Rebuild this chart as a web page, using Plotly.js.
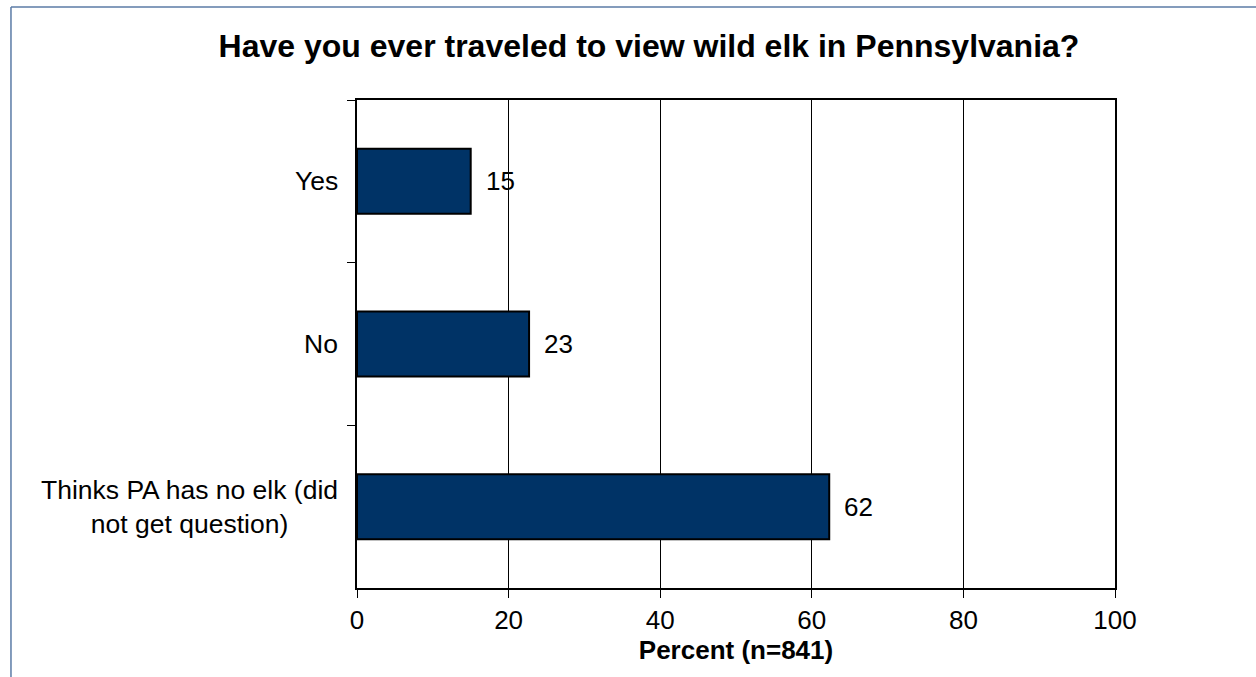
<!DOCTYPE html>
<html>
<head>
<meta charset="utf-8">
<script src="https://cdn.plot.ly/plotly-3.0.1.min.js"></script>
<style>
html,body{margin:0;padding:0;background:#fff;}
#chart{width:1256px;height:677px;}
</style>
</head>
<body>
<div id="chart"></div>
<script>
var categories = ["Yes", "No", "Thinks PA has no elk (did<br>not get question)"];
var values = [15, 22.7, 62.3];
var valueLabels = ["15", "23", "62"];
var xTicks = [0, 20, 40, 60, 80, 100];

var FONT = "Liberation Sans, Arial, sans-serif";

var trace = {
  type: "bar",
  orientation: "h",
  y: categories,
  x: values,
  marker: {color: "#003366", line: {color: "#000000", width: 2}},
  hoverinfo: "skip"
};

var annotations = [];
for (var i = 0; i < categories.length; i++) {
  annotations.push({
    x: values[i], y: categories[i], xref: "x", yref: "y",
    text: valueLabels[i], showarrow: false,
    xanchor: "left", yanchor: "middle", xshift: 13,
    font: {family: FONT, size: 26, color: "#000"}
  });
  annotations.push({
    x: 0, y: categories[i], xref: "paper", yref: "y",
    text: categories[i], showarrow: false,
    xanchor: "right", yanchor: "middle", align: "center", xshift: -17,
    font: {family: FONT, size: 26.5, color: "#000"}
  });
}

var layout = {
  width: 1256, height: 677,
  margin: {l: 357, r: 141, t: 100, b: 89, pad: 0},
  paper_bgcolor: "#ffffff", plot_bgcolor: "#ffffff",
  showlegend: false,
  bargap: 0.6,
  font: {family: FONT, size: 26, color: "#000"},
  title: {
    text: "<b>Have you ever traveled to view wild elk in Pennsylvania?</b>",
    font: {family: FONT, size: 32, color: "#000"},
    xref: "container", yref: "container",
    x: 649 / 1256, xanchor: "center",
    y: 1 - 46 / 677, yanchor: "middle"
  },
  xaxis: {
    range: [0, 100], tickvals: xTicks, ticktext: xTicks.map(String),
    showgrid: true, gridcolor: "#000000", gridwidth: 1,
    zeroline: false,
    showline: true, linecolor: "#000000", linewidth: 2, mirror: true,
    ticks: "outside", ticklen: 8, tickcolor: "#000", tickwidth: 1,
    tickfont: {family: FONT, size: 26, color: "#000"},
    title: {text: "<b>Percent (n=841)</b>", font: {family: FONT, size: 26, color: "#000"}, standoff: 7},
    automargin: false, fixedrange: true
  },
  yaxis: {
    type: "category", categoryorder: "array", categoryarray: categories,
    autorange: "reversed",
    showticklabels: false,
    showgrid: false, zeroline: false,
    showline: true, linecolor: "#000000", linewidth: 2, mirror: true,
    ticks: "outside", tickson: "boundaries", ticklen: 8, tickcolor: "#000", tickwidth: 1,
    automargin: false, fixedrange: true
  },
  annotations: annotations,
  shapes: [
    {type: "line", xref: "paper", yref: "paper", x0: -0.4565, x1: -0.4565, y0: -0.25, y1: 1.1906,
     line: {color: "#5b7ba6", width: 1.5}},
    {type: "line", xref: "paper", yref: "paper", x0: -0.4565, x1: 1.3, y0: 1.1906, y1: 1.1906,
     line: {color: "#5b7ba6", width: 1.5}}
  ]
};

Plotly.newPlot("chart", [trace], layout, {staticPlot: true, displayModeBar: false});
</script>
</body>
</html>
